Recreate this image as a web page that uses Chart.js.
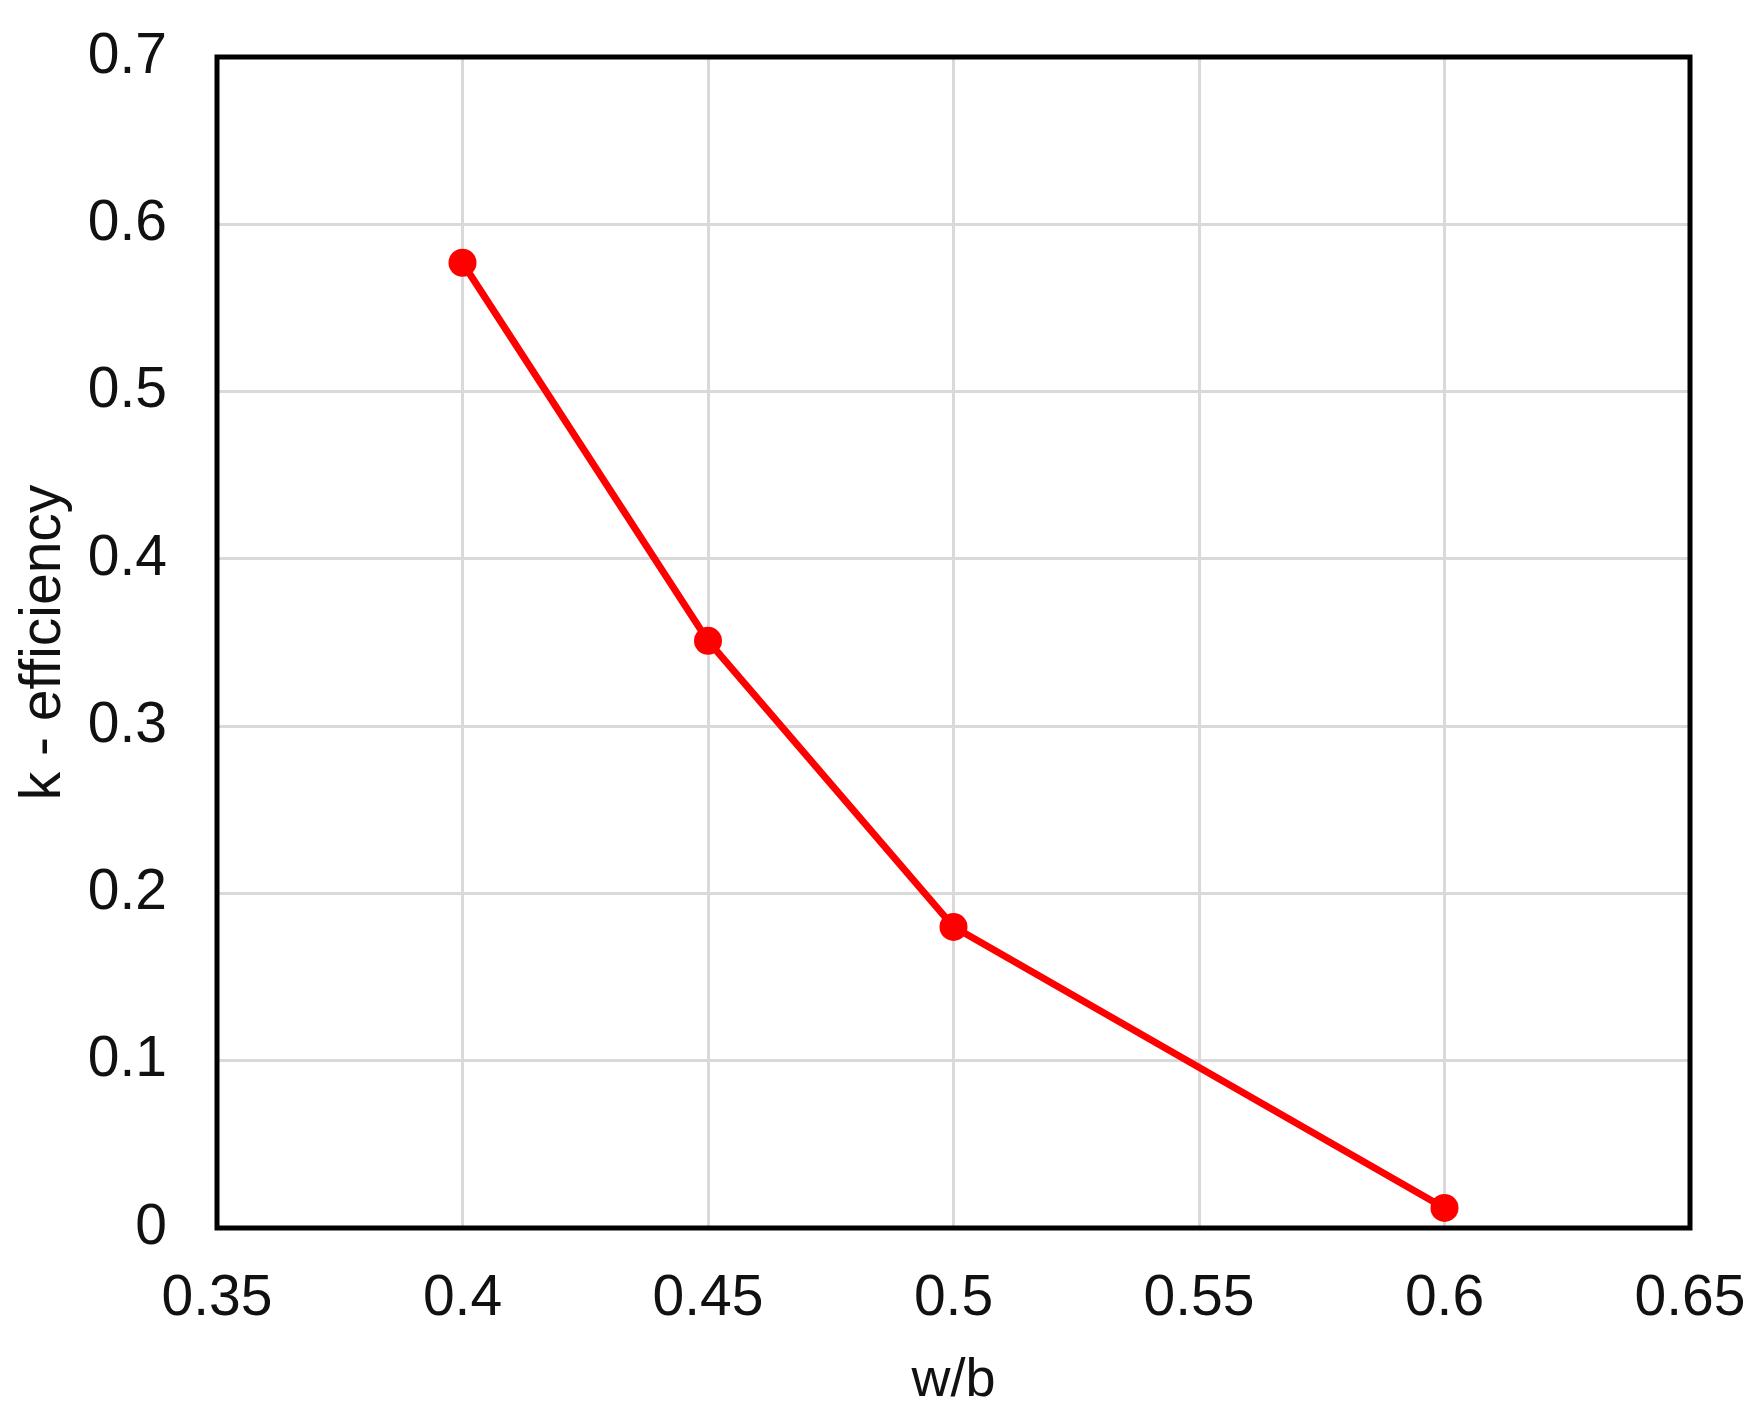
<!DOCTYPE html>
<html>
<head>
<meta charset="utf-8">
<script src="https://cdn.jsdelivr.net/npm/chart.js@4.4.1/dist/chart.umd.min.js"></script>
<style>
  html, body { margin: 0; padding: 0; background: #fff; }
  #kChart { display: block; }
</style>
</head>
<body>
<canvas id="kChart" width="1763" height="1415" style="width:1763px;height:1415px"></canvas>
<script>
// values
const wbRatio = [0.4, 0.45, 0.5, 0.6];
const kEfficiency = [0.577, 0.351, 0.18, 0.012];

const xTickValues = [0.35, 0.4, 0.45, 0.5, 0.55, 0.6, 0.65];
const xTickLabels = ["0.35", "0.4", "0.45", "0.5", "0.55", "0.6", "0.65"];
const yTickValues = [0, 0.1, 0.2, 0.3, 0.4, 0.5, 0.6, 0.7];
const yTickLabels = ["0", "0.1", "0.2", "0.3", "0.4", "0.5", "0.6", "0.7"];

const fontFamily = "'Liberation Sans', Arial, sans-serif";

// black box round the plot area
const framePlugin = {
  id: 'frame',
  beforeDatasetsDraw(chart) {
    const { ctx, chartArea: a } = chart;
    ctx.save();
    ctx.strokeStyle = '#000';
    ctx.lineWidth = 5;
    ctx.strokeRect(a.left, a.top, a.right - a.left, a.bottom - a.top);
    ctx.restore();
  }
};

const ctx = document.getElementById('kChart').getContext('2d');
const kChart = new Chart(ctx, {
  type: 'scatter',
  data: {
    datasets: [{
      label: 'k - efficiency',
      data: wbRatio.map((x, i) => ({ x: x, y: kEfficiency[i] })),
      showLine: true,
      borderColor: '#ff0000',
      backgroundColor: '#ff0000',
      borderWidth: 7,
      pointRadius: 14,
      pointHoverRadius: 14,
      pointBorderWidth: 0,
      pointBackgroundColor: '#ff0000',
      tension: 0
    }]
  },
  options: {
    responsive: false,
    animation: false,
    devicePixelRatio: 1,
    layout: { padding: { top: 57, right: 73, left: 0, bottom: 0 } },
    plugins: {
      legend: { display: false },
      tooltip: { enabled: false }
    },
    scales: {
      x: {
        type: 'linear',
        min: 0.35,
        max: 0.65,
        // fixed axis band, and no extra room for the end labels
        afterFit: s => { s.height = 187; s.paddingLeft = 0; s.paddingRight = 0; },
        afterBuildTicks: s => { s.ticks = xTickValues.map(v => ({ value: v })); },
        grid: { color: '#d9d9d9', lineWidth: 3, drawTicks: false },
        border: { display: false },
        ticks: {
          padding: 37,
          maxRotation: 0,
          autoSkip: false,
          color: '#111',
          font: { family: fontFamily, size: 57 },
          callback: (value, index) => xTickLabels[index]
        },
        title: {
          display: true,
          text: 'w/b',
          color: '#111',
          font: { family: fontFamily, size: 54 },
          padding: { top: 0, bottom: 1 }
        }
      },
      y: {
        type: 'linear',
        min: 0,
        max: 0.7,
        afterFit: s => { s.width = 217; s.paddingTop = 0; s.paddingBottom = 0; },
        afterBuildTicks: s => { s.ticks = yTickValues.map(v => ({ value: v })); },
        grid: { color: '#d9d9d9', lineWidth: 3, drawTicks: false },
        border: { display: false },
        ticks: {
          padding: 50,
          autoSkip: false,
          color: '#111',
          font: { family: fontFamily, size: 57 },
          callback: (value, index) => yTickLabels[index]
        },
        title: {
          display: true,
          text: 'k - efficiency',
          color: '#111',
          font: { family: fontFamily, size: 57 },
          padding: { top: 10, bottom: 0 }
        }
      }
    }
  },
  plugins: [framePlugin]
});
</script>
</body>
</html>
